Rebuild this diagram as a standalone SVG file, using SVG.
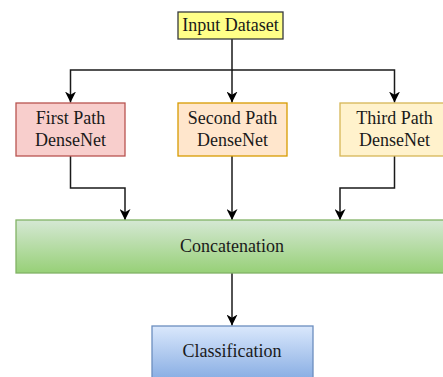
<svg xmlns="http://www.w3.org/2000/svg" width="443" height="377" viewBox="0 0 443 377">
  <style>
    .lbl { font-family: "Liberation Serif", "Times New Roman", serif; font-size: 18px; fill: #1a1a1a; text-anchor: middle; }
    .box { stroke-width: 1.3; }
    .edge { fill: none; stroke: #1a1a1a; stroke-width: 1.5; marker-end: url(#arrow); }
  </style>
  <defs>
    <marker id="arrow" markerUnits="userSpaceOnUse" markerWidth="11" markerHeight="11" refX="10" refY="5" orient="auto" viewBox="0 0 10 10">
      <path d="M0,0 L10,5 L0,10 L3,5 Z" fill="#000"/>
    </marker>
    <linearGradient id="gGreen" x1="0" y1="0" x2="0" y2="1">
      <stop offset="0" stop-color="#d5e8d4"/>
      <stop offset="1" stop-color="#97d077"/>
    </linearGradient>
    <linearGradient id="gBlue" x1="0" y1="0" x2="0" y2="1">
      <stop offset="0" stop-color="#dae8fc"/>
      <stop offset="1" stop-color="#7ea6e0"/>
    </linearGradient>
  </defs>

  <!-- connectors -->
  <g id="connectors">
    <path class="edge" d="M232,39 V70 H70.5 V102.5"/>
    <path class="edge" d="M232,70 V102.5"/>
    <path class="edge" d="M232,70 H394.5 V102.5"/>
    <path class="edge" d="M70.5,156 V188 H125 V220"/>
    <path class="edge" d="M232,156 V220"/>
    <path class="edge" d="M394.5,156 V188 H340 V220"/>
    <path class="edge" d="M232,273 V325.5"/>
  </g>

  <g id="input">
    <rect class="box" x="178" y="12" width="105" height="27" fill="#ffff88" stroke="#36393d"/>
    <text class="lbl" x="230.5" y="31">Input Dataset</text>
  </g>

  <g id="path1">
    <rect class="box" x="16" y="103" width="109" height="53" fill="#f8cecc" stroke="#b85450"/>
    <text class="lbl" x="70.5" y="124">First Path</text>
    <text class="lbl" x="70.5" y="146">DenseNet</text>
  </g>

  <g id="path2">
    <rect class="box" x="178" y="103" width="109" height="53" fill="#ffe6cc" stroke="#d79b00"/>
    <text class="lbl" x="232.5" y="124">Second Path</text>
    <text class="lbl" x="232.5" y="146">DenseNet</text>
  </g>

  <g id="path3">
    <rect class="box" x="340" y="103" width="109" height="53" fill="#fff2cc" stroke="#d6b656"/>
    <text class="lbl" x="394.5" y="124">Third Path</text>
    <text class="lbl" x="394.5" y="146">DenseNet</text>
  </g>

  <g id="concat">
    <rect class="box" x="16" y="220" width="440" height="53" fill="url(#gGreen)" stroke="#82b366"/>
    <text class="lbl" x="232" y="252">Concatenation</text>
  </g>

  <g id="classify">
    <rect class="box" x="152" y="326" width="161" height="60" fill="url(#gBlue)" stroke="#6c8ebf"/>
    <text class="lbl" x="232" y="357">Classification</text>
  </g>
</svg>
